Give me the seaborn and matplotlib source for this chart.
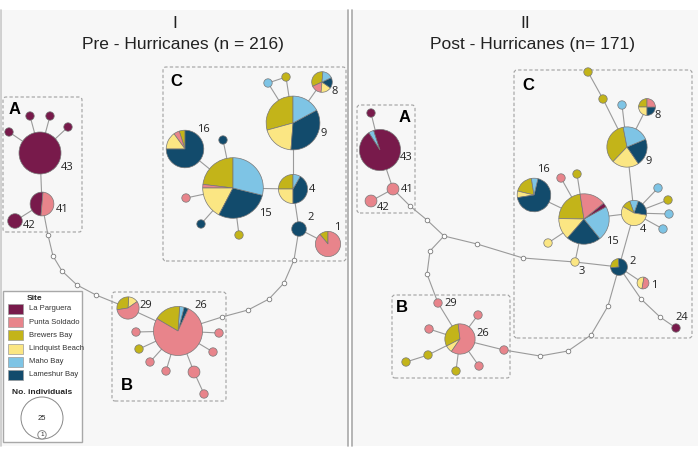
import numpy as np
import pandas as pd
import matplotlib
matplotlib.use('Agg')
import matplotlib.pyplot as plt
import seaborn as sns
from matplotlib.patches import Rectangle, FancyBboxPatch, Circle

W, H = 699, 454

sites = ['La Parguera', 'Punta Soldado', 'Brewers Bay', 'Lindquist Beach', 'Maho Bay', 'Lameshur Bay']
site_keys = ['LP', 'PS', 'BB', 'LB', 'MB', 'LA']
site_colors = ['#781a4b', '#e8848b', '#c3b419', '#fbe683', '#7ec4e5', '#124b6c']

# ---- Pre hurricanes (panel I) ----
pre_names = ['43', 'a1', 'a2', 'a3', 'a4', '41', '42',
             '29', '26', 'b1', 'b2', 'b3', 'b4', 'b5', 'b6', 'b7', 'b8',
             '1', '2', '4', '15', '16', '9', '8', 'c1', 'c2', 'c3', 'c4', 'c5', 'c6']
pre_x = [40, 9, 30, 50, 68, 42, 15,
         128, 178, 136, 139, 150, 166, 194, 204, 213, 219,
         328, 299, 293, 233, 185, 293, 322, 223, 186, 201, 239, 268, 286]
pre_y = [153, 132, 116, 116, 127, 204, 221,
         308, 331, 332, 349, 362, 371, 372, 394, 352, 333,
         244, 229, 189, 188, 149, 123, 82, 140, 198, 224, 235, 83, 77]
pre_comp = [
    [('LP', 25)], [('LP', 1)], [('LP', 1)], [('LP', 1)], [('LP', 1)],
    [('LP', 4), ('PS', 4)], [('LP', 3)],
    [('LB', 1), ('BB', 2), ('PS', 4)],
    [('LA', 1), ('MB', 1), ('BB', 6), ('PS', 26)],
    [('PS', 1)], [('BB', 1)], [('PS', 1)], [('PS', 1)], [('PS', 2)], [('PS', 1)], [('PS', 1)], [('PS', 1)],
    [('BB', 1), ('PS', 8)],
    [('LA', 3)],
    [('BB', 3), ('LB', 3), ('LA', 5), ('MB', 1)],
    [('BB', 12), ('PS', 1), ('LB', 9), ('LA', 15), ('MB', 15)],
    [('BB', 1), ('PS', 1), ('LB', 3), ('LA', 15)],
    [('BB', 12), ('LB', 8), ('LA', 14), ('MB', 7)],
    [('BB', 2), ('PS', 1), ('LB', 1), ('LA', 1), ('MB', 1)],
    [('LA', 1)], [('PS', 1)], [('LA', 1)], [('BB', 1)], [('MB', 1)], [('BB', 1)],
]
pre_start = [90, 90, 90, 90, 90, 85, 90,
             35, 65, 90, 90, 90, 90, 90, 90, 90, 90,
             90, 90, 90, 90, 90, 90, 85, 90, 90, 90, 90, 90, 90]
pre_mv_names = ['m1', 'm2', 'm3', 'm4', 'm5', 'm6', 'm7', 'm8', 'm9', 'm10']
pre_mv_x = [48, 53, 62, 77, 96, 222, 248, 269, 284, 294]
pre_mv_y = [235, 256, 271, 285, 295, 317, 310, 299, 283, 260]
pre_edges = [
    ['43', 'a1'], ['43', 'a2'], ['43', 'a3'], ['43', 'a4'], ['43', '41'], ['41', '42'],
    ['41', 'm1', 'm2', 'm3', 'm4', 'm5', '29'], ['29', '26'],
    ['26', 'b1'], ['26', 'b2'], ['26', 'b3'], ['26', 'b4'], ['26', 'b5'], ['b5', 'b6'],
    ['26', 'b7'], ['26', 'b8'],
    ['26', 'm6', 'm7', 'm8', 'm9', 'm10', '2'],
    ['2', '1'], ['2', '4'], ['4', '15'], ['4', '9'], ['9', '8'], ['9', 'c5'], ['9', 'c6'],
    ['c5', 'c6'], ['15', '16'], ['15', 'c1'], ['15', 'c2'], ['15', 'c3'], ['15', 'c4'],
]
pre_labels = ['43', '41', '42', '29', '26', '1', '2', '4', '15', '16', '9', '8']
pre_label_x = [67, 62, 29, 146, 201, 337, 311, 312, 265, 203, 324, 335]
pre_label_y = [168, 210, 226, 306, 306, 228, 217, 190, 214, 129, 134, 92]

# ---- Post hurricanes (panel II) ----
post_names = ['43', 'a1', '41', '42', '29', '26', 'b1', 'b2', 'b3', 'b4', 'b5', 'b6', 'b7',
              '3', '2', '1', '24', '15', '16', '4', '9', '8',
              'c1', 'c2', 'c3', 'c4', 'c5', 'c6', 'c7', 'c8', 'c9', 'c10']
post_x = [380, 371, 393, 371, 438, 460, 429, 478, 504, 479, 456, 428, 406,
          575, 619, 643, 676, 584, 534, 634, 627, 647,
          658, 668, 669, 663, 561, 577, 548, 622, 603, 588]
post_y = [150, 113, 189, 201, 303, 339, 329, 315, 350, 366, 371, 355, 362,
          262, 267, 283, 328, 219, 195, 213, 147, 107,
          188, 200, 214, 229, 178, 174, 243, 105, 99, 72]
post_comp = [
    [('MB', 1), ('LP', 23)], [('LP', 1)], [('PS', 2)], [('PS', 2)], [('PS', 1)],
    [('BB', 4), ('LB', 1), ('PS', 8)],
    [('PS', 1)], [('PS', 1)], [('PS', 1)], [('PS', 1)], [('BB', 1)], [('BB', 1)], [('BB', 1)],
    [('LB', 1)],
    [('BB', 1), ('LA', 3)],
    [('LB', 1), ('PS', 1)],
    [('LP', 1)],
    [('BB', 8), ('LB', 5), ('LA', 8), ('MB', 8), ('LP', 1), ('PS', 6)],
    [('BB', 3), ('LB', 1), ('LA', 11), ('MB', 1)],
    [('LA', 2), ('MB', 1), ('BB', 1), ('LB', 5)],
    [('BB', 8), ('LB', 5), ('LA', 5), ('MB', 5)],
    [('BB', 1), ('LB', 1), ('LA', 1), ('PS', 1)],
    [('MB', 1)], [('BB', 1)], [('MB', 1)], [('MB', 1)], [('PS', 1)], [('BB', 1)],
    [('LB', 1)], [('MB', 1)], [('BB', 1)], [('BB', 1)],
]
post_start = [108, 90, 90, 90, 90, 97, 90, 90, 90, 90, 90, 90, 90,
              90, 95, 80, 90, 99, 99, -10, 101, 90,
              90, 90, 90, 90, 90, 90, 90, 90, 90, 90]
post_mv_names = ['n1', 'n2', 'J', 'n3', 'n4', 'n5', 'n6', 'n7', 'n8', 'n9', 'n10', 'n11', 'n12']
post_mv_x = [410, 427, 444, 477, 523, 430, 427, 540, 568, 591, 608, 641, 660]
post_mv_y = [206, 220, 236, 244, 258, 251, 274, 356, 351, 335, 306, 299, 317]
post_edges = [
    ['43', 'a1'], ['43', '41'], ['41', '42'], ['41', 'n1', 'n2', 'J'],
    ['J', 'n3', 'n4', '3'], ['J', 'n5', 'n6', '29'], ['29', '26'],
    ['26', 'b1'], ['26', 'b2'], ['26', 'b3'], ['26', 'b4'], ['26', 'b5'], ['26', 'b6'], ['b6', 'b7'],
    ['b3', 'n7', 'n8', 'n9', 'n10', '2'], ['3', '2'], ['3', '15'], ['2', '1'],
    ['2', 'n11', 'n12', '24'], ['2', '4'], ['4', '9'], ['4', '15'], ['15', '16'],
    ['4', 'c1'], ['4', 'c2'], ['4', 'c3'], ['4', 'c4'], ['15', 'c5'], ['15', 'c6'], ['15', 'c7'],
    ['9', 'c8'], ['9', 'c9'], ['c9', 'c10'], ['9', '8'],
]
post_labels = ['43', '41', '42', '29', '26', '16', '15', '9', '8', '4', '3', '2', '1', '24']
post_label_x = [406, 407, 383, 451, 483, 543, 612, 649, 658, 643, 582, 633, 654, 682]
post_label_y = [158, 189, 208, 303, 333, 170, 242, 161, 115, 229, 271, 262, 285, 318]

# groups: (label, x0, y0, x1, y1, label_x, label_y)
pre_groups = [('A', 3, 97, 82, 232, 15, 110), ('B', 112, 292, 226, 401, 127, 386),
              ('C', 163, 67, 346, 261, 176, 82)]
post_groups = [('A', 357, 105, 415, 213, 405, 117), ('B', 392, 295, 510, 378, 402, 308),
               ('C', 514, 70, 692, 338, 528, 86)]

SCALE = 4.2  # radius per sqrt(individual)
color_of = dict(zip(site_keys, site_colors))

sns.set_theme(style='white')
plt.rcParams['font.family'] = ['Liberation Sans', 'DejaVu Sans']

fig = plt.figure(figsize=(W / 100, H / 100), dpi=100)
ax = fig.add_axes([0, 0, 1, 1])

# panel backgrounds and separators
ax.add_patch(Rectangle((1, H - 446), 347, 436, fc='#f7f7f7', ec='none', zorder=0))
ax.add_patch(Rectangle((352, H - 446), 346, 436, fc='#f7f7f7', ec='none', zorder=0))
for xv, c in [(1, '#c9c9c9'), (348, '#a9a9a9'), (352, '#a9a9a9')]:
    ax.plot([xv, xv], [H - 446, H - 10], color=c, lw=1.2, zorder=0.5)


def draw_panel(names, xs, ys, comps, starts, mv_names, mv_x, mv_y, edges,
               labels, lab_x, lab_y, groups):
    pos = {n: (x, H - y) for n, x, y in zip(names, xs, ys)}
    pos.update({n: (x, H - y) for n, x, y in zip(mv_names, mv_x, mv_y)})
    for x0, y0, x1, y1 in [g[1:5] for g in groups]:
        ax.add_patch(FancyBboxPatch((x0, H - y1), x1 - x0, y1 - y0,
                                    boxstyle='round,pad=0,rounding_size=3', fill=False,
                                    ec='#a0a0a0', lw=0.8, ls=(0, (3, 2)), zorder=1))
    for g in groups:
        ax.text(g[5], H - g[6], g[0], fontsize=12, fontweight='bold', ha='center',
                va='center', color='black', zorder=6)
    for path in edges:
        px = [pos[n][0] for n in path]
        py = [pos[n][1] for n in path]
        ax.plot(px, py, color='#9a9a9a', lw=0.8, zorder=2)
    mv = pd.DataFrame({'x': mv_x, 'y': [H - v for v in mv_y]})
    sns.scatterplot(data=mv, x='x', y='y', s=11, color='white', edgecolor='#7a7a7a',
                    linewidth=0.6, zorder=3, ax=ax, legend=False)
    for n, comp, st in zip(names, comps, starts):
        keys = [k for k, _ in comp]
        vals = [v for _, v in comp]
        ax.pie(vals, colors=[color_of[k] for k in keys], radius=SCALE * np.sqrt(sum(vals)),
               center=pos[n], startangle=st, frame=True,
               wedgeprops=dict(edgecolor='#777777', linewidth=0.5, zorder=4))
    for t, x, y in zip(labels, lab_x, lab_y):
        ax.text(x, H - y, t, fontsize=8, ha='center', va='center', family='Open Sans',
                color='#222222', zorder=6)


draw_panel(pre_names, pre_x, pre_y, pre_comp, pre_start, pre_mv_names, pre_mv_x, pre_mv_y,
           pre_edges, pre_labels, pre_label_x, pre_label_y, pre_groups)
draw_panel(post_names, post_x, post_y, post_comp, post_start, post_mv_names, post_mv_x,
           post_mv_y, post_edges, post_labels, post_label_x, post_label_y, post_groups)

# titles
ax.text(175, H - 23, 'I', fontsize=12.5, ha='center', va='center', color='#222222')
ax.text(183, H - 44, 'Pre - Hurricanes (n = 216)', fontsize=12.5, ha='center', va='center',
        color='#222222')
ax.text(525, H - 23, 'II', fontsize=12.5, ha='center', va='center', color='#222222')
ax.text(533, H - 44, 'Post - Hurricanes (n= 171)', fontsize=12.5, ha='center', va='center',
        color='#222222')

# legend
ax.add_patch(Rectangle((3, H - 442), 79, 151, fc='white', ec='#a8a8a8', lw=1, zorder=7))
ax.text(35, H - 298, 'Site', fontsize=6, fontweight='bold', ha='center', va='center', zorder=8)
for i, (name, col) in enumerate(zip(sites, site_colors)):
    yc = 309 + i * 13.2
    ax.add_patch(Rectangle((8, H - yc - 5), 15, 10, fc=col, ec='#9a9a9a', lw=0.5, zorder=8))
    ax.text(29, H - yc, name, fontsize=5.5, ha='left', va='center', color='#333333', zorder=8)
ax.text(42, H - 393, 'No. individuals', fontsize=6, fontweight='bold', ha='center',
        va='center', zorder=8)
for n in [25, 1]:
    r = SCALE * np.sqrt(n)
    ax.add_patch(Circle((42, H - 439 + r), r, fc='white', ec='#888888', lw=0.7, zorder=8))
ax.text(42, H - 418, '25', fontsize=5.5, ha='center', va='center', zorder=9)
ax.text(42, H - 435, '1', fontsize=4.5, ha='center', va='center', zorder=9)

ax.set_xlim(0, W)
ax.set_ylim(0, H)
ax.set_aspect('equal')
ax.axis('off')
fig.savefig('out.png', dpi=100, facecolor='white')
